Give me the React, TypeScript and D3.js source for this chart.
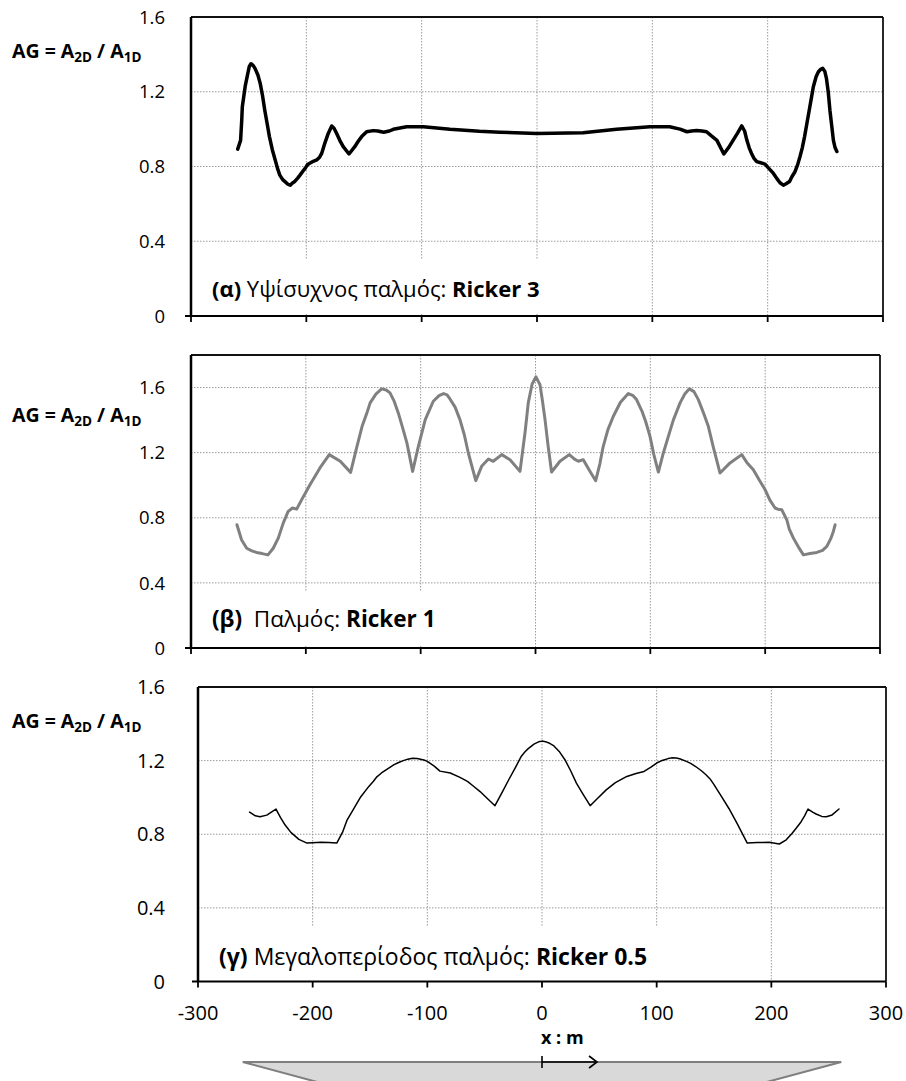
import * as d3 from "d3";
import React from "react";

// x : m, amplification AG = A2D / A1D
const X_TICKS = [-300, -200, -100, 0, 100, 200, 300];
const Y_TICKS = [0, 0.4, 0.8, 1.2, 1.6];
const Y_TICK_LABELS = ["0", "0.4", "0.8", "1.2", "1.6"];

// (α) Ricker 3
const ricker3: [number, number][] = [
  [-259.5, 0.893], [-257, 0.94], [-256, 1.05], [-255.5, 1.12], [-253, 1.23], [-251, 1.29],
  [-249.5, 1.334], [-248, 1.35], [-246, 1.34], [-244.5, 1.325], [-242, 1.29], [-240, 1.245],
  [-238, 1.18], [-236, 1.1], [-234, 1.03], [-232, 0.96], [-229.5, 0.89], [-227, 0.835],
  [-225, 0.79], [-223, 0.754], [-220.5, 0.73], [-218.5, 0.719], [-216, 0.705], [-214, 0.7],
  [-212, 0.712], [-210, 0.72], [-207.5, 0.738], [-205.5, 0.754], [-203, 0.775], [-201, 0.79],
  [-199, 0.81], [-197, 0.817], [-194, 0.828], [-191, 0.835], [-188.5, 0.85], [-186.7, 0.87],
  [-184, 0.924], [-181, 0.977], [-178, 1.017], [-176, 1.005], [-173.7, 0.977], [-171, 0.94],
  [-168, 0.906], [-163, 0.867], [-158, 0.906], [-155, 0.935], [-152, 0.96], [-147.7, 0.986],
  [-142, 0.992], [-138, 0.99], [-133, 0.983], [-128, 0.99], [-124.6, 0.999], [-113, 1.013],
  [-98.6, 1.013], [-75.4, 0.999], [-50, 0.988], [-32, 0.983], [0, 0.977], [40, 0.98],
  [69, 0.999], [98, 1.013], [115, 1.013], [124, 1.0], [130, 0.986], [134, 0.99],
  [138.5, 0.992], [143, 0.99], [147, 0.986], [151, 0.965], [156, 0.94], [162, 0.867],
  [166, 0.9], [170, 0.94], [174, 0.98], [177.5, 1.017], [180, 0.99], [182, 0.94],
  [184, 0.9], [186, 0.87], [188, 0.845], [190.5, 0.826], [194, 0.82], [197.7, 0.813],
  [201, 0.79], [205, 0.763], [208, 0.735], [210.7, 0.713], [213.6, 0.7], [216, 0.708],
  [219, 0.72], [221, 0.745], [223.7, 0.772], [226, 0.81], [228, 0.852], [230, 0.9],
  [232, 0.96], [234, 1.03], [236, 1.1], [238, 1.17], [239.6, 1.227], [242, 1.28],
  [244, 1.307], [246, 1.32], [247.7, 1.325], [249.5, 1.31], [251, 1.27], [252.5, 1.2],
  [254, 1.1], [255.5, 1.02], [257, 0.94], [258.5, 0.9], [260, 0.88],
];

// (β) Ricker 1
const ricker1: [number, number][] = [
  [-260, 0.757], [-256, 0.665], [-251.5, 0.613], [-247, 0.597], [-243, 0.587], [-238, 0.58],
  [-233, 0.572], [-228.4, 0.613], [-224, 0.675], [-219.7, 0.767], [-215.4, 0.839], [-211.6, 0.86],
  [-208, 0.853], [-203.7, 0.91], [-196.4, 1.003], [-187.7, 1.106], [-179.6, 1.188], [-170, 1.147],
  [-161, 1.079], [-155.8, 1.229], [-151, 1.362], [-147, 1.44], [-144, 1.506], [-139, 1.56],
  [-134, 1.592], [-130, 1.585], [-126.7, 1.567], [-123, 1.515], [-119.5, 1.444], [-116, 1.36],
  [-112, 1.26], [-107, 1.085], [-102, 1.239], [-96, 1.403], [-89, 1.516], [-84, 1.55],
  [-80, 1.563], [-77, 1.555], [-74.5, 1.53], [-70, 1.48], [-65.8, 1.403], [-62, 1.31],
  [-58.5, 1.198], [-52, 1.028], [-46.9, 1.116], [-41, 1.161], [-36.8, 1.147], [-29.4, 1.188],
  [-22.2, 1.157], [-13.5, 1.085], [-9, 1.33], [-6.3, 1.506], [-3, 1.62], [0.4, 1.666],
  [3.9, 1.618], [6, 1.52], [8.3, 1.403], [11, 1.24], [14, 1.081], [21.3, 1.147],
  [29.4, 1.188], [34, 1.16], [37.3, 1.147], [41.6, 1.157], [47, 1.09], [52.4, 1.028],
  [56, 1.13], [59, 1.239], [63, 1.34], [67.8, 1.424], [74, 1.51], [80.8, 1.563],
  [85, 1.55], [88, 1.526], [93, 1.45], [96, 1.39], [99.7, 1.3], [103, 1.19],
  [107, 1.081], [111, 1.19], [115.7, 1.3], [120, 1.4], [125.9, 1.506], [130, 1.56],
  [134, 1.592], [138, 1.575], [141.8, 1.526], [146, 1.45], [150.5, 1.362], [155, 1.23],
  [160.7, 1.075], [169.4, 1.137], [179.6, 1.188], [184, 1.14], [189.7, 1.095], [195, 1.03],
  [200, 0.972], [204, 0.91], [208.6, 0.86], [211, 0.853], [214.5, 0.849], [218.8, 0.788],
  [221, 0.73], [224.6, 0.675], [229, 0.62], [233.3, 0.572], [239, 0.58], [245, 0.587],
  [250, 0.6], [253.7, 0.624], [257, 0.67], [259.4, 0.716], [260.9, 0.757],
];

// (γ) Ricker 0.5
const ricker05: [number, number][] = [
  [-255, 0.92], [-250, 0.9], [-246, 0.895], [-240, 0.904], [-232, 0.937], [-228, 0.89],
  [-224, 0.85], [-219, 0.81], [-212, 0.772], [-205, 0.752], [-200, 0.754], [-193, 0.756],
  [-186, 0.755], [-179, 0.752], [-174, 0.81], [-170, 0.877], [-164, 0.94], [-158, 1.004],
  [-151, 1.06], [-147, 1.088], [-144, 1.112], [-140, 1.133], [-136, 1.15], [-132, 1.166],
  [-129, 1.178], [-125, 1.19], [-121, 1.2], [-117, 1.208], [-113, 1.213], [-109, 1.212],
  [-106, 1.208], [-103, 1.203], [-100, 1.196], [-94, 1.17], [-89, 1.143], [-80, 1.133],
  [-72, 1.11], [-65, 1.087], [-60, 1.062], [-54, 1.032], [-47, 0.99], [-41, 0.955],
  [-35, 1.025], [-29, 1.096], [-23, 1.165], [-18, 1.224], [-15, 1.247], [-12, 1.265],
  [-7, 1.29], [-3, 1.302], [0, 1.306], [3, 1.303], [6, 1.296], [10, 1.282],
  [15, 1.25], [20, 1.205], [25, 1.145], [30, 1.078], [36, 1.015], [42, 0.955],
  [49, 0.998], [56, 1.041], [64, 1.08], [74, 1.114], [82, 1.13], [89, 1.141],
  [95, 1.165], [100, 1.187], [104, 1.199], [107, 1.205], [110, 1.211], [113, 1.215],
  [117, 1.214], [120, 1.21], [126, 1.196], [130, 1.184], [134, 1.168], [139, 1.145],
  [143, 1.123], [147, 1.097], [150, 1.07], [157, 1.0], [163, 0.94], [170, 0.86],
  [179, 0.752], [188, 0.755], [198, 0.756], [207, 0.747], [213, 0.77], [218, 0.804],
  [222, 0.835], [226, 0.868], [229, 0.9], [232, 0.937], [236, 0.92], [239, 0.91],
  [244, 0.897], [248, 0.895], [253, 0.905], [259, 0.937],
];

// valley cross-section (m)
const VALLEY_TOP_HALF = 261;
const VALLEY_BOTTOM_HALF = 105;

const FONT = "'Open Sans', sans-serif";

const panels = [
  {
    data: ricker3, yMax: 1.6, left: 191, right: 883, top: 17, bottom: 316,
    color: "#000", lw: 3.5, tickSize: 18.5, labelSize: 22,
    tag: "(α)", text: " Υψίσυχνος παλμός: ", name: "Ricker 3",
    labelY: 297, box: [200, 259, 600, 314], titleY: 58,
  },
  {
    data: ricker1, yMax: 1.8, left: 191, right: 880, top: 355, bottom: 648,
    color: "#808080", lw: 3, tickSize: 18.5, labelSize: 22.5,
    tag: "(β)", text: "  Παλμός: ", name: "Ricker 1",
    labelY: 627, box: [200, 592, 450, 646], titleY: 422,
  },
  {
    data: ricker05, yMax: 1.6, left: 198, right: 886, top: 687, bottom: 981.5,
    color: "#000", lw: 1.5, tickSize: 20, labelSize: 23,
    tag: "(γ)", text: " Μεγαλοπερίοδος παλμός: ", name: "Ricker 0.5",
    labelY: 965, box: [205, 927, 700, 980], titleY: 728,
  },
];

function Panel({ p, last }: { p: any; last: boolean }) {
  const x = d3.scaleLinear().domain([-300, 300]).range([p.left, p.right]);
  const y = d3.scaleLinear().domain([0, p.yMax]).range([p.bottom, p.top]);
  const line = d3.line<[number, number]>().x(d => x(d[0])).y(d => y(d[1]));
  const grid = "#9a9a9a";
  return (
    <g>
      {/* horizontal grid */}
      {Y_TICKS.filter(t => t > 0 && y(t) > p.top + 1).map(t => (
        <line key={"h" + t} x1={p.left} x2={p.right} y1={y(t)} y2={y(t)}
          stroke={grid} strokeWidth={1} strokeDasharray="1.5 1.5" />
      ))}
      {/* vertical grid */}
      {X_TICKS.slice(1, -1).map(t => (
        <line key={"v" + t} x1={x(t)} x2={x(t)} y1={p.top} y2={p.bottom}
          stroke={grid} strokeWidth={1} strokeDasharray="1.5 1.5" />
      ))}
      {/* label box hides the grid */}
      <rect x={p.box[0]} y={p.box[1]} width={p.box[2] - p.box[0]} height={p.box[3] - p.box[1]} fill="#fff" />
      <text x={x(-300) + 21} y={p.labelY} fontFamily={FONT} fontSize={p.labelSize} fill="#000">
        <tspan fontWeight="bold">{p.tag}</tspan>
        <tspan xmlSpace="preserve">{p.text}</tspan>
        <tspan fontWeight="bold">{p.name}</tspan>
      </text>
      {/* frame */}
      <line x1={p.left} x2={p.right} y1={p.top} y2={p.top} stroke="#111" strokeWidth={1.8} />
      <line x1={p.right} x2={p.right} y1={p.top} y2={p.bottom} stroke="#111" strokeWidth={1.8} />
      <line x1={p.left} x2={p.left} y1={p.top} y2={p.bottom} stroke="#000" strokeWidth={2.5} />
      <line x1={p.left - 6} x2={p.right} y1={p.bottom} y2={p.bottom} stroke="#000" strokeWidth={2} />
      {X_TICKS.map(t => (
        <line key={"t" + t} x1={x(t)} x2={x(t)} y1={p.bottom} y2={p.bottom + 6} stroke="#000" strokeWidth={1.8} />
      ))}
      {/* y tick labels */}
      {Y_TICKS.map((t, i) => (
        <text key={"l" + t} x={165} y={y(t)} dy="0.36em" textAnchor="end"
          fontFamily={FONT} fontSize={p.tickSize} fill="#000">{Y_TICK_LABELS[i]}</text>
      ))}
      {/* y title */}
      <text x={12} y={p.titleY} fontFamily={FONT} fontSize={19.5} fontWeight="bold" fill="#000">
        AG = A<tspan fontSize={13.5} dy={4}>2D</tspan>
        <tspan dy={-4} xmlSpace="preserve"> / A</tspan>
        <tspan fontSize={13.5} dy={4}>1D</tspan>
      </text>
      <path d={line(p.data) || ""} fill="none" stroke={p.color} strokeWidth={p.lw}
        strokeLinejoin="round" strokeLinecap="round" />
      {last && X_TICKS.map(t => (
        <text key={"xl" + t} x={x(t)} y={1013} dy="0.36em" textAnchor="middle"
          fontFamily={FONT} fontSize={20} fill="#000">{t}</text>
      ))}
    </g>
  );
}

function Valley() {
  const p = panels[2];
  const x = d3.scaleLinear().domain([-300, 300]).range([p.left, p.right]);
  const topY = 1062;
  const botY = 1110;
  const pts: [number, number][] = [
    [x(-VALLEY_TOP_HALF), topY], [x(VALLEY_TOP_HALF), topY],
    [x(VALLEY_BOTTOM_HALF), botY], [x(-VALLEY_BOTTOM_HALF), botY],
  ];
  const x0 = x(0);
  const x1 = x(48);
  return (
    <g>
      <polygon points={pts.map(d => d.join(",")).join(" ")} fill="#d9d9d9" stroke="#7f7f7f" strokeWidth={2} />
      <text x={x0 - 1} y={1038} dy="0.36em" fontFamily={FONT} fontSize={18} fontWeight="bold" fill="#000">x : m</text>
      <line x1={x0} x2={x1} y1={topY} y2={topY} stroke="#000" strokeWidth={1.6} />
      <line x1={x0} x2={x0} y1={topY - 6} y2={topY + 6} stroke="#000" strokeWidth={1.6} />
      <polyline points={`${x1 - 8},${topY - 6} ${x1},${topY} ${x1 - 8},${topY + 6}`} fill="none" stroke="#000" strokeWidth={1.6} />
    </g>
  );
}

export default function App() {
  return (
    <svg width={906} height={1081} style={{ position: "absolute", left: 0, top: 0, display: "block", background: "#fff" }}>
      {panels.map((p, i) => <Panel key={i} p={p} last={i === panels.length - 1} />)}
      <Valley />
    </svg>
  );
}
